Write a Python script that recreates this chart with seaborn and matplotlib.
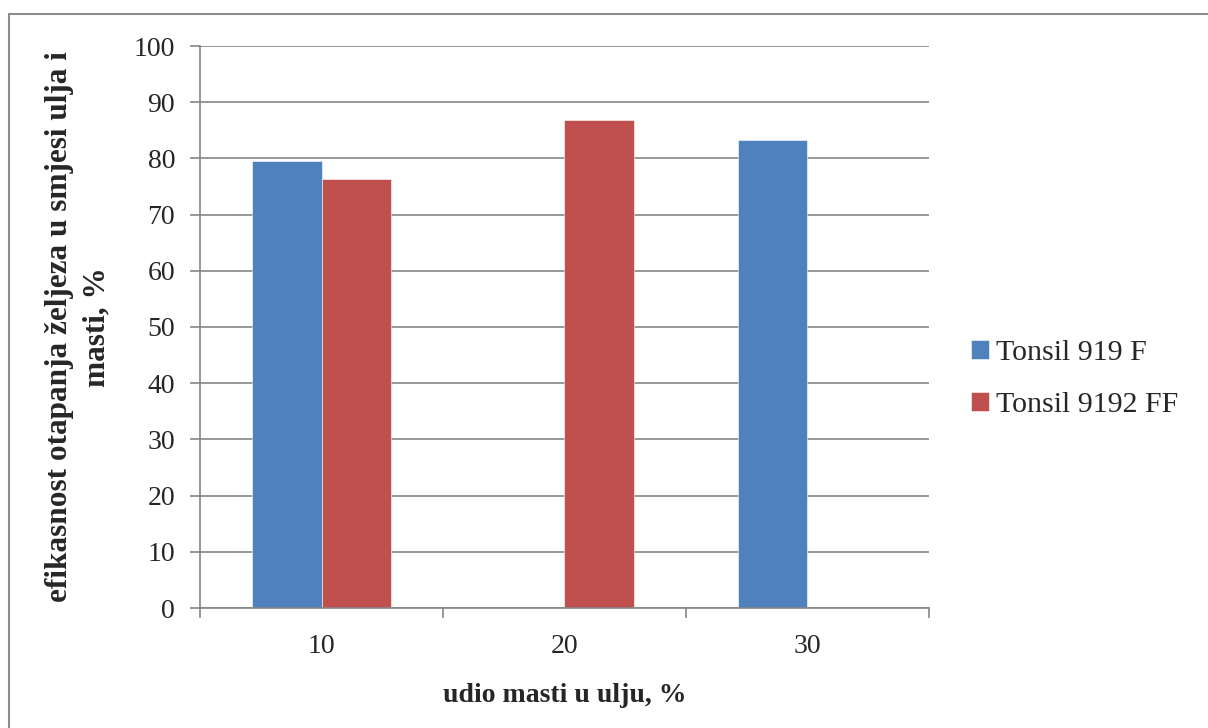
import numpy as np
import pandas as pd
import matplotlib.pyplot as plt
from matplotlib.lines import Line2D
from matplotlib.ticker import FixedLocator
import seaborn as sns

# data
udio = [10, 20, 30]
series_names = ["Tonsil 919 F", "Tonsil 9192 FF"]
tonsil_919f = [79.6, np.nan, 83.3]
tonsil_9192ff = [76.3, 86.9, np.nan]
y_ticks = list(range(0, 101, 10))

colors = ["#4F81BD", "#C0504D"]
grid_gray = "#868686"

df = pd.DataFrame({
    "udio": udio * 2,
    "efikasnost": tonsil_919f + tonsil_9192ff,
    "serija": [series_names[0]] * 3 + [series_names[1]] * 3,
}).dropna()

sns.set_style("white")
plt.rcParams["font.family"] = ["Liberation Serif", "DejaVu Serif"]

fig = plt.figure(figsize=(12.08, 7.28), dpi=100)
ax = fig.add_axes([200 / 1208, 1 - 608 / 728, 729 / 1208, 562 / 728])

sns.barplot(data=df, x="udio", y="efikasnost", hue="serija",
            hue_order=series_names, order=udio, palette=colors, saturation=1,
            width=0.576, errorbar=None, dodge=True, ax=ax,
            edgecolor="white", linewidth=0.4)

ax.set_xlim(-0.5, 2.5)
ax.set_ylim(0, 100)
ax.set_yticks(y_ticks)
ax.yaxis.grid(True, color=grid_gray, linewidth=1.2)
ax.set_axisbelow(True)

for side in ["top", "right"]:
    ax.spines[side].set_visible(False)
for side in ["left", "bottom"]:
    ax.spines[side].set_color(grid_gray)
    ax.spines[side].set_linewidth(1.2)

# x: labels at the centres, tick marks at category borders
ax.set_xticks(range(len(udio)))
ax.set_xticklabels([str(u) for u in udio])
ax.xaxis.set_minor_locator(FixedLocator([-0.5, 0.5, 1.5, 2.5]))
ax.tick_params(axis="x", which="major", length=0, pad=19, labelsize=20)
ax.tick_params(axis="x", which="minor", length=7, width=1.2, color=grid_gray,
               direction="out", bottom=True)
ax.tick_params(axis="y", length=7, width=1.2, color=grid_gray, direction="out",
               left=True, pad=11, labelsize=20)

ax.set_xlabel("udio masti u ulju, %", fontsize=20, fontweight="bold")
ax.xaxis.set_label_coords(0.5, -0.133)
ylab = ax.set_ylabel("efikasnost otapanja željeza u smjesi ulja i\nmasti, %",
                     fontsize=22.5, fontweight="bold", linespacing=1.38)
ylab.set_va("center")
ax.yaxis.set_label_coords(-0.167, 0.5)

handles, labels = ax.get_legend_handles_labels()
ax.legend_.remove()
fig.legend(handles, labels, loc="center left", bbox_to_anchor=(971 / 1208, 1 - 379 / 728),
           frameon=False, fontsize=21.5, borderpad=0, borderaxespad=0,
           handlelength=0.6, handleheight=0.6, handletextpad=0.25, labelspacing=0.9)

# thin frame around the chart, as in the original screenshot
fig.add_artist(Line2D([9 / 1208, 1], [1 - 14 / 728, 1 - 14 / 728],
                      transform=fig.transFigure, color="#8c8c8c", linewidth=1.5))
fig.add_artist(Line2D([9 / 1208, 9 / 1208], [0, 1 - 14 / 728],
                      transform=fig.transFigure, color="#8c8c8c", linewidth=1.5))

fig.savefig("out.png", dpi=100)
